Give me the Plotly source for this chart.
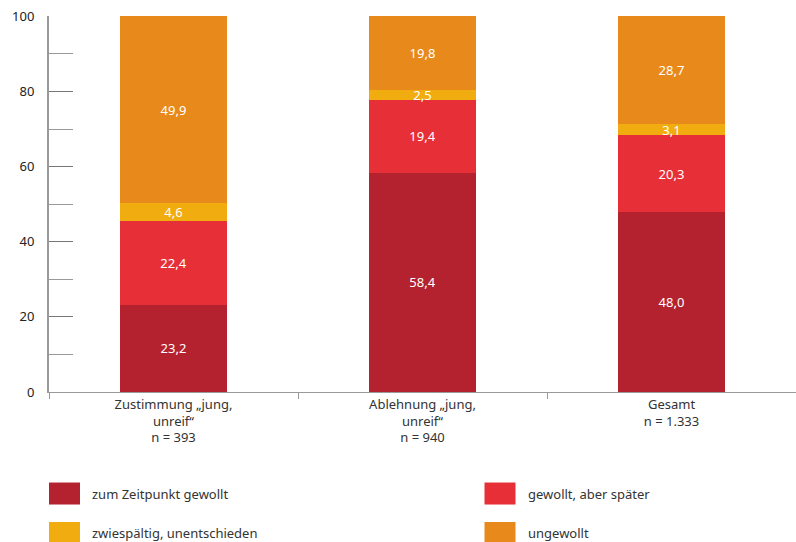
import plotly.graph_objects as go

categories = ["Zustimmung „jung,<br>unreif“<br>n = 393",
              "Ablehnung „jung,<br>unreif“<br>n = 940",
              "Gesamt<br>n = 1.333"]
series_names = ["zum Zeitpunkt gewollt", "gewollt, aber später",
                "zwiespältig, unentschieden", "ungewollt"]
zeitpunkt = [23.2, 58.4, 48.0]
spaeter = [22.4, 19.4, 20.3]
zwiespaeltig = [4.6, 2.5, 3.1]
ungewollt = [49.9, 19.8, 28.7]
colors = ["#B4222F", "#E72F38", "#F1AC10", "#E8891B"]
yticks = [0, 20, 40, 60, 80, 100]

FONT = "Noto Sans"
fig = go.Figure()
for name, vals, col in zip(series_names, [zeitpunkt, spaeter, zwiespaeltig, ungewollt], colors):
    fig.add_trace(go.Bar(
        x=categories, y=vals, name=name, marker=dict(color=col, line=dict(width=0)),
        text=[f"{v:.1f}".replace(".", ",") for v in vals],
        textposition="inside", insidetextanchor="middle", constraintext="none",
        textfont=dict(color="white", size=13, family=FONT),
        width=0.43, showlegend=False,
    ))

# custom legend (paper coordinates)
legend_pos = [(0.0, -0.27), (0.583, -0.27), (0.0, -0.375), (0.583, -0.375)]
for (lx, ly), name, col in zip(legend_pos, series_names, colors):
    fig.add_shape(type="rect", xref="paper", yref="paper",
                  x0=lx, x1=lx + 31 / 747, y0=ly - 11 / 376, y1=ly + 11 / 376,
                  fillcolor=col, line=dict(width=0))
    fig.add_annotation(xref="paper", yref="paper", x=lx + 41 / 747, y=ly,
                       text=name, showarrow=False, xanchor="left", yanchor="middle",
                       font=dict(size=13, color="#333", family=FONT))

fig.update_layout(
    barmode="stack",
    width=796, height=542,
    margin=dict(l=49, r=0, t=16, b=150),
    plot_bgcolor="white", paper_bgcolor="white",
    font=dict(family=FONT, size=13, color="#333"),
    uniformtext=dict(mode="show", minsize=12),
)
fig.update_xaxes(
    showline=True, linecolor="#999", linewidth=1,
    ticks="outside", tickson="boundaries", ticklen=6, tickcolor="#999",
    tickfont=dict(size=13, color="#333", family=FONT),
    showgrid=False, fixedrange=True,
)
fig.update_yaxes(
    range=[0, 100.1], tickvals=yticks, ticks="inside", ticklen=24, tickcolor="#777",
    showline=True, linecolor="#999", linewidth=2, showgrid=False, zeroline=False,
    tickfont=dict(size=13, color="#222", family=FONT),
    minor=dict(dtick=10, ticks="inside", ticklen=24, tickcolor="#999", showgrid=False),
    ticklabelstandoff=10,
)
fig.write_html("out.html")
